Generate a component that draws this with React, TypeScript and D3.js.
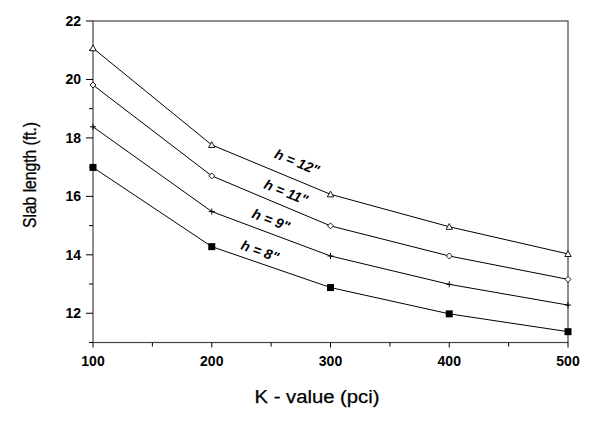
import React from "react";
import * as d3 from "d3";

const kValues = [100, 200, 300, 400, 500];
const h12 = [21.07, 17.76, 16.07, 14.96, 14.03];
const h11 = [19.81, 16.7, 14.99, 13.96, 13.16];
const h9 = [18.38, 15.48, 13.96, 12.99, 12.28];
const h8 = [16.99, 14.28, 12.88, 11.98, 11.37];
const seriesLabels = ['h = 12"', 'h = 11"', 'h = 9"', 'h = 8"'];
const xTicks = [100, 200, 300, 400, 500];
const xMinor = [150, 250, 350, 450];
const yTicks = [12, 14, 16, 18, 20, 22];
const yMinor = [11, 13, 15, 17, 19, 21];

const W = 600, H = 425;
const L = 93, R = 568, T = 21, B = 342.5;

export default function App() {
  const x = d3.scaleLinear().domain([100, 500]).range([L, R]);
  const y = d3.scaleLinear().domain([11, 22]).range([B, T]);
  const line = d3.line<number>().x((_, i) => x(kValues[i])).y((d) => y(d));
  const series = [
    { vals: h12, marker: "tri" },
    { vals: h11, marker: "dia" },
    { vals: h9, marker: "plus" },
    { vals: h8, marker: "sq" },
  ];
  const labelPos = [
    { cx: 297, cy: 162, rot: 22 },
    { cx: 286, cy: 192, rot: 22 },
    { cx: 271, cy: 220, rot: 21 },
    { cx: 260, cy: 251, rot: 20 },
  ];
  const marker = (type: string, px: number, py: number, key: string) => {
    if (type === "tri") {
      const s = 3.2;
      return <path key={key} d={`M${px},${py - s}L${px + s},${py + s * 0.8}L${px - s},${py + s * 0.8}Z`} fill="white" stroke="black" strokeWidth={0.9} />;
    }
    if (type === "dia") {
      const s = 3;
      return <path key={key} d={`M${px},${py - s}L${px + s},${py}L${px},${py + s}L${px - s},${py}Z`} fill="white" stroke="black" strokeWidth={0.9} />;
    }
    if (type === "plus") {
      const s = 3;
      return <path key={key} d={`M${px - s},${py}L${px + s},${py}M${px},${py - s}L${px},${py + s}`} stroke="black" strokeWidth={1} />;
    }
    return <rect key={key} x={px - 3.5} y={py - 3.5} width={7} height={7} fill="black" />;
  };
  return (
    <svg width={W} height={H} style={{ position: "absolute", left: 0, top: 0, background: "white" }} fontFamily="Liberation Sans, Arial, sans-serif">
      <rect x={0} y={0} width={W} height={H} fill="white" />
      <rect x={L} y={T} width={R - L} height={B - T} fill="none" stroke="#444" strokeWidth={1.2} />
      {yTicks.map((t) => (
        <g key={"y" + t}>
          <line x1={L - 7} x2={L} y1={y(t)} y2={y(t)} stroke="black" strokeWidth={1} />
          <text x={L - 12} y={y(t)} dy="0.35em" textAnchor="end" fontSize={14} fontWeight="bold">{t}</text>
        </g>
      ))}
      {yMinor.map((t) => (
        <line key={"ym" + t} x1={L - 4} x2={L} y1={y(t)} y2={y(t)} stroke="black" strokeWidth={1} />
      ))}
      {xTicks.map((t) => (
        <g key={"x" + t}>
          <line x1={x(t)} x2={x(t)} y1={B} y2={B + 5} stroke="black" strokeWidth={1} />
          <text x={x(t)} y={B + 23} textAnchor="middle" fontSize={14} fontWeight="bold">{t}</text>
        </g>
      ))}
      {xMinor.map((t) => (
        <line key={"xm" + t} x1={x(t)} x2={x(t)} y1={B} y2={B + 4} stroke="black" strokeWidth={1} />
      ))}
      {series.map((s, si) => (
        <g key={"s" + si}>
          <path d={line(s.vals) || ""} fill="none" stroke="black" strokeWidth={1} />
          {s.vals.map((v, i) => marker(s.marker, x(kValues[i]), y(v), `m${si}-${i}`))}
        </g>
      ))}
      {seriesLabels.map((lab, i) => (
        <text key={"l" + i} x={labelPos[i].cx} y={labelPos[i].cy} dy="0.35em" textAnchor="middle" fontSize={14} fontWeight="bold" fontStyle="italic"
          transform={`rotate(${labelPos[i].rot},${labelPos[i].cx},${labelPos[i].cy})`}>{lab}</text>
      ))}
      <text x={317} y={403} textAnchor="middle" fontSize={18} textLength={125} lengthAdjust="spacingAndGlyphs" stroke="black" strokeWidth={0.25}>K - value (pci)</text>
      <text x={0} y={0} textAnchor="middle" fontSize={17.5} textLength={106} lengthAdjust="spacingAndGlyphs" stroke="black" strokeWidth={0.3}
        transform={`translate(36,175) rotate(-90)`}>Slab length (ft.)</text>
    </svg>
  );
}
